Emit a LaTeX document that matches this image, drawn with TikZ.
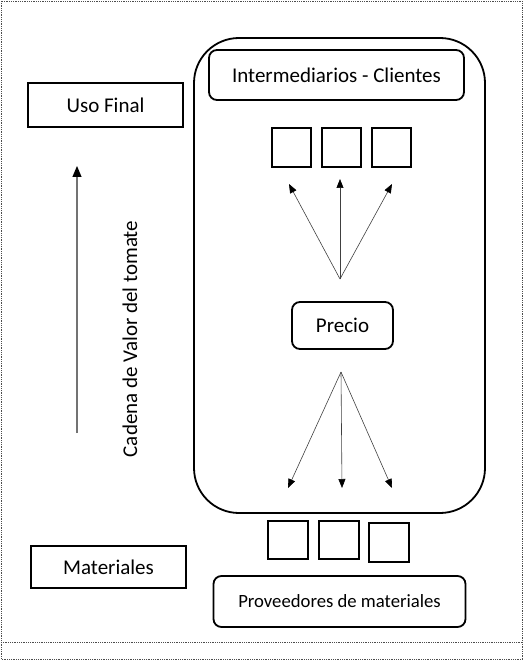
\documentclass[tikz,border=0pt]{standalone}
\usepackage{fontspec}
\setmainfont{Carlito}
\usetikzlibrary{arrows.meta}
\begin{document}
\begin{tikzpicture}[x=1pt,y=-1pt,
  box/.style={draw=black,line width=1.8pt},
  rbox/.style={draw=black,line width=1.8pt,rounded corners=8pt},
  sq/.style={draw=black,line width=1.8pt},
  arr/.style={draw=black!75,line width=0.6pt,-{Triangle[length=9pt,width=7pt,color=black]}},
  lbl/.style={font=\fontsize{21}{24}\selectfont}]
\useasboundingbox (0,0) rectangle (523,660);
\draw[black!70,densely dotted,line width=0.8pt] (1,1) rectangle (522,659);
\draw[black!70,densely dotted,line width=0.8pt] (1,642) -- (522,642);
% big container
\draw[line width=1.8pt,rounded corners=45pt] (194,38) rectangle (485,513);
\node[rbox,minimum width=255pt,minimum height=50pt,lbl] (ic) at (336.5,75) {Intermediarios - Clientes};
\node[box,minimum width=155pt,minimum height=44pt,lbl] (uf) at (105.5,105) {Uso Final};
% top squares
\node[sq,minimum width=39pt,minimum height=39pt] (t1) at (291.5,147.5) {};
\node[sq,minimum width=39pt,minimum height=39pt] (t2) at (341.5,147.5) {};
\node[sq,minimum width=39pt,minimum height=39pt] (t3) at (391.5,147.5) {};
\coordinate (ta) at (340,279);
\coordinate (tb1) at (289,184);
\coordinate (tb2) at (340,179);
\coordinate (tb3) at (392,184);
\draw[arr] (ta) -- (tb1);
\draw[arr] (ta) -- (tb2);
\draw[arr] (ta) -- (tb3);
\node[rbox,minimum width=101pt,minimum height=47pt,lbl] (pr) at (342.5,325.5) {Precio};
\coordinate (ba) at (341,372);
\coordinate (bb1) at (288,488);
\coordinate (bb2) at (342,488);
\coordinate (bb3) at (392,488);
\draw[arr] (ba) -- (bb1);
\draw[arr] (ba) -- (bb2);
\draw[arr] (ba) -- (bb3);
% bottom squares
\node[sq,minimum width=40pt,minimum height=38pt] (b1) at (288,540) {};
\node[sq,minimum width=40pt,minimum height=38pt] (b2) at (339,540) {};
\node[sq,minimum width=40pt,minimum height=39pt] (b3) at (389,542.5) {};
\node[box,minimum width=155pt,minimum height=42pt,lbl] (ma) at (108.5,567) {Materiales};
\node[rbox,minimum width=252pt,minimum height=51pt,font=\fontsize{18.7}{21}\selectfont] (pm) at (339.5,601.5) {Proveedores de materiales};
% vertical arrow
\coordinate (va) at (77,433);
\coordinate (vb) at (77,167);
\draw[draw=black!55,line width=1.2pt,-{Triangle[length=11pt,width=9pt,color=black]},shorten >=-1pt] (va) -- (vb);
\node[lbl,rotate=90] (cv) at (130,339) {Cadena de Valor del tomate};
\end{tikzpicture}
\end{document}
